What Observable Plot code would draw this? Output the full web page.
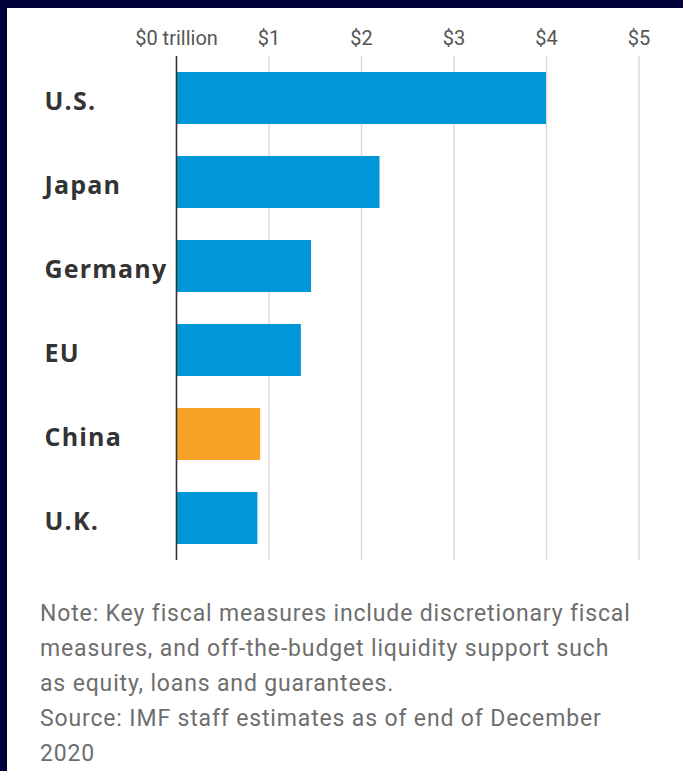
<!DOCTYPE html>
<html>
<head>
<meta charset="utf-8">
<script src="https://cdn.jsdelivr.net/npm/d3@7"></script>
<script src="https://cdn.jsdelivr.net/npm/@observablehq/plot@0.6"></script>
<style>
  html, body { margin: 0; padding: 0; }
  body { background: #03013a; width: 683px; height: 771px; overflow: hidden; position: relative; }
  #panel { position: absolute; left: 7px; top: 8px; right: 0; bottom: 0; background: #fff; }
  #chart { position: absolute; left: 0; top: 0; }
  #chart .country-labels text { letter-spacing: 1.2px; }
  #note { position: absolute; left: 33px; top: 588px; width: 640px;
          font-family: Roboto, sans-serif; letter-spacing: 0.85px;
          font-size: 23px; line-height: 35px; color: #6e6e6e; white-space: pre; }
</style>
</head>
<body>
<div id="panel">
  <div id="chart"></div>
  <div id="note"></div>
</div>
<script>
const countries = ["U.S.", "Japan", "Germany", "EU", "China", "U.K."];
const values = [4.0, 2.2, 1.46, 1.35, 0.91, 0.88];
const highlighted = ["China"];
const xTicks = [0, 1, 2, 3, 4, 5];
const noteLines = [
  "Note: Key fiscal measures include discretionary fiscal",
  "measures, and off-the-budget liquidity support such",
  "as equity, loans and guarantees.",
  "Source: IMF staff estimates as of end of December",
  "2020"
];

const data = countries.map((c, i) => ({
  country: c,
  value: values[i],
  group: highlighted.includes(c) ? "China" : "Other"
}));

const chart = Plot.plot({
  width: 676,
  height: 560,
  marginLeft: 169,
  marginRight: 44.5,
  marginTop: 48,
  marginBottom: 8,
  style: { background: "transparent", overflow: "visible" },
  x: { domain: [0, 5], label: null },
  y: { domain: countries, paddingInner: 0.381, paddingOuter: 0.19, label: null },
  color: { domain: ["Other", "China"], range: ["#0097d9", "#f8a326"] },
  marks: [
    Plot.gridX(xTicks.filter(d => d > 0), { stroke: "#d9d9d9", strokeOpacity: 1, strokeWidth: 1.5 }),
    Plot.axisX(xTicks, {
      anchor: "top", tickSize: 0, tickPadding: 12, label: null,
      tickFormat: d => d === 0 ? "$0 trillion" : "$" + d,
      fontSize: 20, fill: "#555",
      fontFamily: "Roboto, sans-serif"
    }),
    Plot.axisY({ ticks: [], label: null }),
    Plot.barX(data, { x: "value", y: "country", fill: "group" }),
    Plot.ruleX([0], { stroke: "#333", strokeWidth: 1.6 }),
    Plot.text(data, {
      y: "country", text: "country", frameAnchor: "left", textAnchor: "start",
      dx: -132, dy: 3, fontSize: 25, fontWeight: "bold", fill: "#333",
      fontFamily: "'Open Sans', sans-serif", className: "country-labels"
    })
  ]
});
document.getElementById("chart").appendChild(chart);
document.getElementById("note").textContent = noteLines.join("\n");
</script>
</body>
</html>
